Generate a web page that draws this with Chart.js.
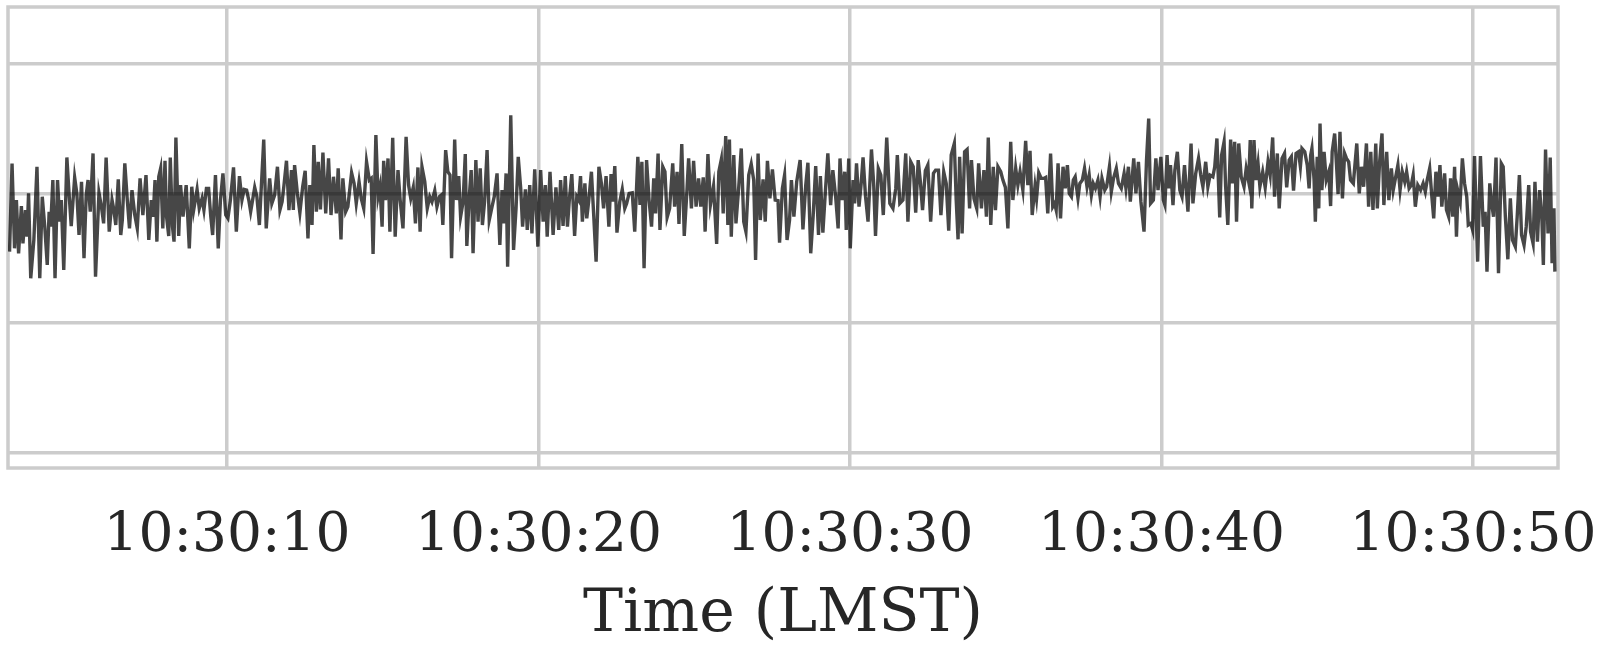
<!DOCTYPE html>
<html lang="en">
<head>
  <meta charset="UTF-8">
  <title>Time (LMST)</title>
  <style>
    html, body { margin: 0; padding: 0; background: #fff; }
    #caixa { width: 1605px; height: 653px; position: relative; }
  </style>
</head>
<body>
  <div id="caixa"><canvas id="graf"></canvas></div>
  <script src="https://cdn.jsdelivr.net/npm/chart.js"></script>
  <script>
    // time in seconds after 10:30:00 LMST, values in raw counts (axis is unlabelled)
    const secs1 = [3.02,3.10,3.18,3.24,3.31,3.40,3.45,3.53,3.58,3.63,3.70,3.80,3.90,3.99,4.07,4.15,4.23,4.29,4.34,4.41,4.48,4.56,4.63,4.68,4.76,4.86,4.93,5.00,5.11,5.18,5.25,5.33,5.41,5.48,5.54,5.61,5.70,5.78,5.89,5.97,6.04,6.12,6.22,6.31,6.37,6.43,6.51,6.59,6.64,6.72,6.80,6.87,6.95,7.04,7.12,7.21,7.30,7.40,7.49,7.57,7.63,7.69,7.75,7.81,7.87,7.94,8.01,8.06,8.13,8.18,8.25,8.30,8.36,8.45,8.51,8.59,8.69,8.79,8.87,8.93,9.04,9.11,9.20,9.26,9.34,9.41,9.48,9.54,9.63,9.72,9.79,9.87,9.96,10.03,10.11,10.21,10.30,10.40,10.48,10.55,10.63,10.70,10.76,10.89,10.96,11.04,11.18,11.26];
    const vals1 = [-175,90,-165,-20,-180,-38,-150,-50,-130,0,-255,-140,80,-255,-10,-100,-215,-55,-100,40,-255,40,-85,-20,-230,108,0,-98,48,0,-125,35,-195,-5,40,-55,120,-250,2,-40,-90,108,-115,-20,-50,-95,42,-125,-80,90,-20,-105,10,-65,-105,45,-65,55,-140,-20,-70,40,-145,50,75,-105,98,-70,-128,108,-100,-145,168,-128,25,-70,25,-165,20,-50,12,-45,-15,-50,15,15,-70,-125,55,-165,-20,60,-65,-75,-20,78,-115,52,-20,12,10,-20,-55,18,-10,-95,162,-105];

    const secs2 = [11.37,11.44,11.53,11.62,11.70,11.77,11.83,11.91,11.99,12.07,12.13,12.17,12.26,12.34,12.43,12.51,12.60,12.66,12.73,12.79,12.87,12.93,13.00,13.08,13.17,13.26,13.34,13.42,13.51,13.57,13.66,13.72,13.81,13.88,14.00,14.08,14.15,14.24,14.31,14.39,14.48,14.57,14.63,14.69,14.78,14.85,14.91,14.98,15.03,15.09,15.17,15.23,15.32,15.40,15.49,15.56,15.65,15.75,15.83,15.90,15.98,16.05,16.13,16.20,16.26,16.35,16.43,16.51,16.58,16.67,16.74,16.82,16.88,16.93,17.02,17.09,17.16,17.21,17.31,17.37,17.44,17.50,17.58,17.65,17.70,17.77,17.84,17.90,17.99,18.06,18.13,18.20,18.27,18.35,18.42,18.51,18.58,18.67,18.76,18.83,18.89,18.96,19.01,19.11,19.20,19.28,19.35,19.43,19.49,19.58,19.64];
    const vals2 = [45,-30,-5,80,-50,-25,25,98,-50,70,-50,85,0,-58,20,68,-135,25,-95,145,-55,95,-48,123,-60,105,-65,50,-60,75,-138,45,-55,-40,62,30,-30,35,-15,-45,95,40,45,-182,175,-10,20,-100,98,-20,105,-115,167,-130,70,-20,-105,170,25,-15,18,-90,78,-115,80,35,-45,-10,-25,8,-40,-10,-5,-95,130,65,55,-195,162,-20,52,-70,-25,118,-158,-20,70,-180,100,-85,75,-95,-25,130,-80,-40,-10,60,-155,10,-90,60,-220,235,-170,-45,110,15,-100,12,-110];

    const secs3 = [19.72,19.79,19.88,19.98,20.07,20.15,20.22,20.28,20.37,20.47,20.56,20.65,20.71,20.79,20.86,20.93,20.99,21.07,21.16,21.23,21.29,21.35,21.41,21.49,21.55,21.61,21.70,21.77,21.85,21.94,22.02,22.09,22.17,22.26,22.33,22.38,22.45,22.52,22.61,22.69,22.77,22.83,22.91,23.01,23.09,23.19,23.26,23.32,23.39,23.47,23.55,23.63,23.70,23.76,23.84,23.90,23.99,24.06,24.13,24.21,24.31,24.37,24.45,24.51,24.60,24.68,24.76,24.82,24.91,24.98,25.06,25.14,25.21,25.29,25.35,25.44,25.52,25.62,25.72,25.79,25.87,25.93,26.01,26.08,26.13,26.19,26.27,26.34,26.43,26.51,26.59,26.66,26.75,26.83,26.91,26.97,27.05,27.12,27.21,27.28,27.35,27.43,27.51,27.60,27.69,27.74,27.83,27.90,27.98];
    const vals3 = [25,-120,72,-160,70,-85,25,-130,65,-125,18,-110,40,-98,52,-100,-20,58,-128,-10,-20,52,-85,30,-75,-25,65,-60,-205,80,30,-45,52,-100,58,-25,82,-118,-25,12,-45,-30,0,2,-115,110,-35,95,-225,100,-20,-100,45,-60,120,-110,80,65,-72,-45,90,-40,65,-92,148,-128,-2,105,-45,98,-40,45,-40,48,-115,118,-35,22,-152,65,102,-60,172,-95,162,-130,115,-90,20,135,-85,-115,55,88,40,-200,120,-80,42,-85,98,-15,72,-20,-22,-148,15,55,-140];

    const secs4 = [28.06,28.12,28.20,28.29,28.40,28.49,28.58,28.65,28.74,28.82,28.90,28.99,29.05,29.13,29.21,29.29,29.38,29.45,29.54,29.62,29.68,29.75,29.83,29.88,29.96,30.01,30.10,30.15,30.21,30.29,30.36,30.42,30.50,30.58,30.69,30.76,30.82,30.91,30.99,31.07,31.18,31.28,31.38,31.47,31.52,31.60,31.70,31.79,31.86,31.95,32.03,32.11,32.19,32.26,32.33,32.42,32.50,32.59,32.68,32.75,32.84,32.92,33.01,33.09,33.17,33.25,33.35,33.41,33.47,33.52,33.60,33.68,33.76,33.84,33.90,33.98,34.07,34.13,34.22,34.30,34.38,34.44,34.52,34.60,34.67,34.75,34.84,34.91,34.99,35.07,35.16,35.23,35.32,35.39,35.46,35.55,35.64,35.71,35.78,35.85,35.94,35.99,36.06,36.14,36.22,36.28,36.35];
    const vals4 = [-80,40,-70,35,100,-108,25,92,-180,-65,82,-125,52,-118,5,120,-35,70,-10,-105,105,-20,65,-110,105,-165,40,-30,90,-40,30,108,-10,-85,132,30,-128,75,55,-65,168,-30,-45,15,115,-30,-20,120,-85,95,80,-58,100,35,-50,68,85,-85,60,70,70,-65,65,30,-112,115,150,-20,-138,110,-120,125,132,-45,100,-15,-45,90,-45,70,-70,168,-95,80,-50,80,65,40,18,-105,155,-20,75,25,65,10,158,25,128,-65,22,-15,62,45,45,48,-60];

    const secs5 = [36.44,36.51,36.57,36.62,36.68,36.76,36.84,36.91,36.98,37.04,37.11,37.17,37.23,37.32,37.38,37.46,37.53,37.61,37.68,37.75,37.81,37.88,37.96,38.03,38.09,38.18,38.24,38.33,38.39,38.46,38.55,38.62,38.71,38.80,38.86,38.94,39.00,39.11,39.18,39.26,39.34,39.44,39.52,39.59,39.65,39.74,39.82,39.89,39.98,40.06,40.11,40.18,40.23,40.29,40.37,40.43,40.51,40.59,40.66,40.74,40.85,40.95,41.01,41.10,41.19,41.26,41.33,41.42,41.49,41.56,41.65,41.71,41.78,41.87,41.93,42.01,42.06,42.13,42.22,42.28,42.35,42.41,42.48,42.56,42.65,42.72,42.80,42.85,42.90,42.97,43.03,43.10,43.16,43.25,43.33,43.42,43.49,43.57,43.63,43.72,43.78,43.87,43.95,44.02,44.10,44.17,44.24,44.32,44.40,44.46,44.51,44.60,44.68];
    const vals5 = [120,-40,-30,-50,90,-75,80,15,85,0,-10,40,50,-15,30,40,75,20,55,-5,30,15,40,-10,45,10,20,80,5,45,75,30,15,60,15,80,-25,105,0,95,-25,-115,100,225,-30,-20,105,10,110,-20,-35,115,15,85,-35,70,125,10,-10,85,-55,150,-30,60,105,55,20,95,20,55,50,80,165,-72,115,155,20,-95,162,30,155,-85,150,50,20,75,35,160,-45,160,40,90,20,65,18,95,55,168,-10,120,-45,105,120,18,100,110,8,120,125,80,135,125,85];

    const secs6 = [44.74,44.79,44.83,44.90,44.94,45.00,45.05,45.09,45.15,45.22,45.29,45.37,45.43,45.48,45.56,45.62,45.67,45.73,45.81,45.88,45.94,46.01,46.07,46.16,46.27,46.35,46.42,46.49,46.58,46.65,46.72,46.79,46.88,46.93,47.00,47.08,47.14,47.23,47.30,47.38,47.44,47.52,47.59,47.66,47.73,47.81,47.87,47.95,48.02,48.08,48.15,48.23,48.32,48.40,48.47,48.53,48.61,48.68,48.74,48.81,48.88,48.94,49.00,49.09,49.15,49.22,49.28,49.35,49.41,49.47,49.52,49.59,49.66,49.73,49.80,49.85,49.93,49.99,50.05,50.15,50.24,50.33,50.39,50.45,50.54,50.60,50.66,50.74,50.82,50.91,50.97,51.04,51.12,51.20,51.27,51.36,51.42,51.49,51.56,51.64,51.71,51.79,51.85,51.93,51.99,52.07,52.14,52.21,52.26,52.33,52.41,52.48,52.54,52.60,52.63];
    const vals6 = [15,115,135,40,-85,110,-45,210,10,125,40,65,-38,125,180,85,-2,185,-15,120,105,95,40,30,150,0,80,20,150,-40,125,-50,150,-45,90,180,-35,125,-20,75,10,50,85,10,65,35,65,15,25,55,-40,25,10,30,5,40,75,-10,-75,65,-10,85,-40,60,-50,-70,45,-70,80,-130,5,-25,105,30,-10,-95,-90,-110,112,-205,112,-100,-55,-235,30,-30,-70,108,-240,90,80,-70,-198,-15,-140,-160,-70,55,-125,-155,-100,25,-115,-150,35,-145,10,-70,-215,132,-120,108,-210,-45,-235];

    // axis limits and ticks
    const xMin = 2.97, xMax = 52.73;
    const yMin = -825, yMax = 560;
    const xTicks = [10, 20, 30, 40, 50];
    const xTickLabels = ['10:30:10', '10:30:20', '10:30:30', '10:30:40', '10:30:50'];
    const yTicks = [-780, -390, 0, 390];

    const todosSecs = [].concat(secs1, secs2, secs3, secs4, secs5, secs6);
    const todosVals = [].concat(vals1, vals2, vals3, vals4, vals5, vals6);
    const pontos = todosSecs.map((t, i) => ({ x: t, y: todosVals[i] }));

    const CINZA = '#cccccc';
    const FONTE = "'DejaVu Serif', serif";

    // moldura em volta da area do grafico
    const moldura = {
      id: 'moldura',
      beforeDatasetsDraw(chart) {
        const a = chart.chartArea, ctx = chart.ctx;
        ctx.save();
        ctx.strokeStyle = CINZA;
        ctx.lineWidth = 3.5;
        ctx.strokeRect(a.left, a.top, a.right - a.left, a.bottom - a.top);
        ctx.restore();
      }
    };

    new Chart(document.getElementById('graf'), {
      type: 'line',
      data: {
        datasets: [{
          data: pontos,
          borderColor: 'rgba(0,0,0,0.72)',
          borderWidth: 3.4,
          pointRadius: 0,
          tension: 0,
          fill: false
        }]
      },
      options: {
        responsive: true,
        maintainAspectRatio: false,
        animation: false,
        events: [],
        layout: { padding: { left: 8, top: 7, right: 47, bottom: 0 } },
        plugins: { legend: { display: false }, tooltip: { enabled: false } },
        scales: {
          x: {
            type: 'linear',
            min: xMin, max: xMax,
            afterBuildTicks: s => { s.ticks = xTicks.map(v => ({ value: v })); },
            afterFit: s => { s.height = 185; s.paddingLeft = 0; s.paddingRight = 0; },
            grid: { color: CINZA, lineWidth: 3.5, drawTicks: false },
            border: { display: false },
            ticks: {
              padding: 36,
              color: '#262626',
              font: { family: FONTE, size: 55 },
              maxRotation: 0,
              autoSkip: false,
              callback: (v) => xTickLabels[xTicks.indexOf(v)] || ''
            },
            title: {
              display: true,
              text: 'Time (LMST)',
              color: '#262626',
              font: { family: FONTE, size: 60 },
              padding: { top: 0, bottom: 2 }
            }
          },
          y: {
            type: 'linear',
            min: yMin, max: yMax,
            afterBuildTicks: s => { s.ticks = yTicks.map(v => ({ value: v })); },
            afterFit: s => { s.width = 0; s.paddingTop = 0; s.paddingBottom = 0; },
            grid: { color: CINZA, lineWidth: 3.5, drawTicks: false },
            border: { display: false },
            ticks: { display: false }
          }
        }
      },
      plugins: [moldura]
    });
  </script>
</body>
</html>
